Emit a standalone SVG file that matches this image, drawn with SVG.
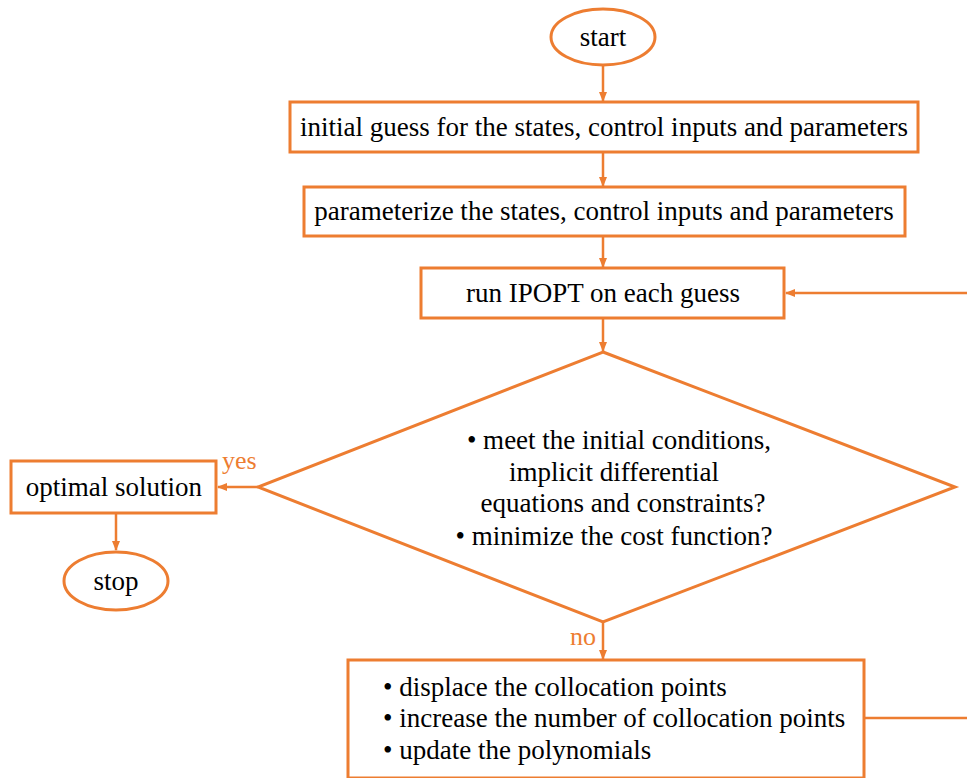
<svg xmlns="http://www.w3.org/2000/svg" width="967" height="778" viewBox="0 0 967 778" font-family="'Liberation Serif', serif">
<defs>
<style>
.n{fill:#fff;stroke:#ED7D31;stroke-width:3}
.c{fill:none;stroke:#ED7D31;stroke-width:2.5}
</style>
<marker id="ah" markerWidth="10" markerHeight="10" refX="9" refY="5" orient="auto" markerUnits="userSpaceOnUse"><path d="M0,1 L10,5 L0,9 z" fill="#ED7D31"/></marker>
</defs>
<rect width="967" height="778" fill="#fff"/>
<g id="connectors">
<line class="c" x1="603" y1="66" x2="603" y2="101" marker-end="url(#ah)"/>
<line class="c" x1="603" y1="152" x2="603" y2="186" marker-end="url(#ah)"/>
<line class="c" x1="603" y1="236" x2="603" y2="267" marker-end="url(#ah)"/>
<line class="c" x1="603" y1="318" x2="603" y2="351" marker-end="url(#ah)"/>
<line class="c" x1="258" y1="487" x2="218" y2="487" marker-end="url(#ah)"/>
<line class="c" x1="116" y1="513" x2="116" y2="550" marker-end="url(#ah)"/>
<line class="c" x1="603" y1="622" x2="603" y2="659" marker-end="url(#ah)"/>
<polyline class="c" points="864,718 967,718"/>
<line class="c" x1="967" y1="293" x2="786" y2="293" marker-end="url(#ah)"/>
<text x="222" y="469" font-family="Liberation Serif" font-size="26" fill="#ED7D31">yes</text>
<text x="570" y="645" font-family="Liberation Serif" font-size="26" fill="#ED7D31">no</text>
</g>
<g id="start" font-family="Liberation Serif" font-size="27">
<ellipse class="n" cx="603" cy="37" rx="52" ry="28"/>
<g><text x="603" y="46" text-anchor="middle" font-family="Liberation Serif">start</text></g>
</g>
<g id="guess" font-family="Liberation Serif" font-size="27">
<rect class="n" x="290" y="102" width="628" height="50"/>
<g><text x="604" y="136" text-anchor="middle" font-family="Liberation Serif">initial guess for the states, control inputs and parameters</text></g>
</g>
<g id="param" font-family="Liberation Serif" font-size="27">
<rect class="n" x="304" y="187" width="601" height="49"/>
<g><text x="604" y="220" text-anchor="middle" font-family="Liberation Serif">parameterize the states, control inputs and parameters</text></g>
</g>
<g id="ipopt" font-family="Liberation Serif" font-size="27">
<rect class="n" x="421" y="268" width="363" height="50"/>
<g><text x="603" y="302" text-anchor="middle" font-family="Liberation Serif">run IPOPT on each guess</text></g>
</g>
<g id="decision" font-family="Liberation Serif" font-size="27">
<polygon class="n" points="603,352 955,487 603,622 258,487"/>
<g text-anchor="middle">
<text x="619" y="449" font-family="Liberation Serif">• meet the initial conditions,</text>
<text x="614" y="481" font-family="Liberation Serif">implicit differential</text>
<text x="623" y="512" font-family="Liberation Serif">equations and constraints?</text>
<text x="614" y="545" font-family="Liberation Serif">• minimize the cost function?</text>
</g>
</g>
<g id="optimal" font-family="Liberation Serif" font-size="27">
<rect class="n" x="11" y="461" width="205" height="52"/>
<g><text x="114" y="496" text-anchor="middle" font-family="Liberation Serif">optimal solution</text></g>
</g>
<g id="stop" font-family="Liberation Serif" font-size="27">
<ellipse class="n" cx="116" cy="581" rx="52" ry="29"/>
<g><text x="116" y="590" text-anchor="middle" font-family="Liberation Serif">stop</text></g>
</g>
<g id="update" font-family="Liberation Serif" font-size="27">
<rect class="n" x="348" y="660" width="516" height="118"/>
<g>
<text x="383" y="696" font-family="Liberation Serif">•  displace the collocation points</text>
<text x="383" y="727" font-family="Liberation Serif">•  increase the number of collocation points</text>
<text x="383" y="759" font-family="Liberation Serif">•  update the polynomials</text>
</g>
</g>
</svg>
